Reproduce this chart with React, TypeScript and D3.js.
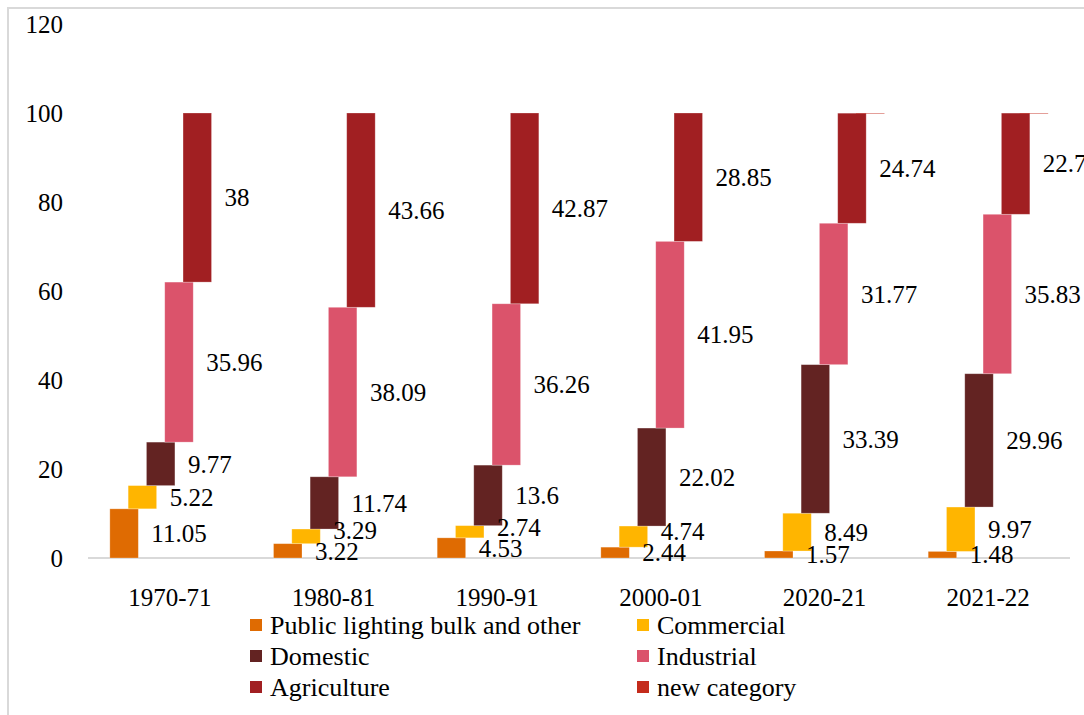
import React from "react";
import * as d3 from "d3";

const categories = ["1970-71", "1980-81", "1990-91", "2000-01", "2020-21", "2021-22"];
const seriesNames = [
  "Public lighting bulk and other",
  "Commercial",
  "Domestic",
  "Industrial",
  "Agriculture",
  "new category",
];
const publicLighting = [11.05, 3.22, 4.53, 2.44, 1.57, 1.48];
const commercial = [5.22, 3.29, 2.74, 4.74, 8.49, 9.97];
const domestic = [9.77, 11.74, 13.6, 22.02, 33.39, 29.96];
const industrial = [35.96, 38.09, 36.26, 41.95, 31.77, 35.83];
const agriculture = [38, 43.66, 42.87, 28.85, 24.74, 22.74];
const newCategory = [0, 0, 0, 0, 0.04, 0.02];
const yTicks = [0, 20, 40, 60, 80, 100, 120];
const colors = ["#DF6B02", "#FFB500", "#632322", "#DB536B", "#A11F22", "#C42B1C"];

const seriesValues = [publicLighting, commercial, domestic, industrial, agriculture, newCategory];

const W = 1084;
const H = 715;

export default function App() {
  const x = d3.scaleBand<string>().domain(categories).range([88, 1070]).padding(0);
  const y = d3.scaleLinear().domain([0, 120]).range([558, 24]);
  const bw = x.bandwidth();
  const innerStep = bw * 0.1118;
  const barW = bw * 0.174;

  const bars: any[] = [];
  const labels: any[] = [];
  categories.forEach((cat, ci) => {
    const gc = (x(cat) as number) + bw / 2;
    let cum = 0;
    let prevLabelY: number | null = null;
    seriesValues.forEach((vals, si) => {
      const v = vals[ci];
      const y0 = cum;
      const y1 = cum + v;
      cum = y1;
      const cx = gc + (si - 2.5) * innerStep;
      const top = y(y1);
      const bottom = y(y0);
      let h = bottom - top;
      if (si === 5) {
        if (v <= 0) return;
        h = Math.max(h, 1);
        bars.push(
          <rect key={`b${ci}-${si}`} x={cx - barW / 2} y={top} width={barW} height={h}
            fill={colors[si]} opacity={0.45} />
        );
        return;
      }
      bars.push(
        <rect key={`b${ci}-${si}`} x={cx - barW / 2} y={top} width={barW} height={h}
          fill={colors[si]} stroke="#ffffff" strokeOpacity={0.35} strokeWidth={0.75} />
      );
      let ly = (top + bottom) / 2;
      if (prevLabelY !== null && prevLabelY - ly < 21) ly = prevLabelY - 21;
      prevLabelY = ly;
      labels.push(
        <text key={`l${ci}-${si}`} x={cx + barW / 2 + 13} y={ly} dy="0.35em" fill="#000">
          {String(v)}
        </text>
      );
    });
  });

  const legendRows = [625, 656, 687];
  const legendCols = [250, 637];

  return (
    <div style={{ position: "absolute", left: 0, top: 0, width: W, height: H }}>
      <svg width={W} height={H} fontFamily="Liberation Serif" fontSize={25}
        style={{ display: "block", background: "#fff" }}>
        <style>{`text { font-family: "Liberation Serif"; font-size: 25px; } text.lg { font-size: 26px; }`}</style>
        <rect x={0} y={0} width={W} height={H} fill="#fff" />
        <rect x={8} y={8} width={1300} height={900} fill="none" stroke="#D9D9D9" strokeWidth={2} />
        {yTicks.map((t) => (
          <text key={`yt${t}`} x={63} y={y(t)} dy="0.35em" textAnchor="end" fill="#000">
            {t}
          </text>
        ))}
        <line x1={88} x2={1070} y1={y(0)} y2={y(0)} stroke="#D9D9D9" strokeWidth={2} />
        {bars}
        {labels}
        {categories.map((c) => (
          <text key={`xc${c}`} x={(x(c) as number) + bw / 2} y={597} dy="0.35em" textAnchor="middle" fill="#000">
            {c}
          </text>
        ))}
        {seriesNames.map((name, i) => {
          const col = i % 2;
          const row = Math.floor(i / 2);
          const lx = legendCols[col];
          const ly = legendRows[row];
          return (
            <g key={`lg${i}`}>
              <rect x={lx} y={ly - 6} width={12} height={12} fill={colors[i]} />
              <text className="lg" x={lx + 20} y={ly} dy="0.35em" fill="#000">
                {name}
              </text>
            </g>
          );
        })}
      </svg>
    </div>
  );
}
